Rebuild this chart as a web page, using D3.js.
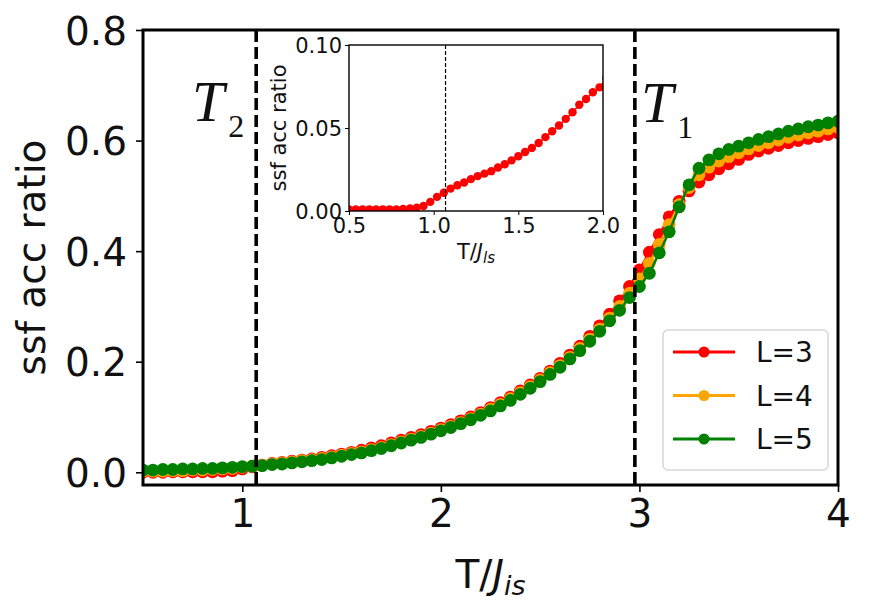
<!DOCTYPE html>
<html>
<head>
<meta charset="utf-8">
<script src="https://cdn.jsdelivr.net/npm/d3@7"></script>
<style>
  body { margin: 0; background: #fff; }
  text { font-family: "DejaVu Sans", sans-serif; fill: #111; }
</style>
</head>
<body>
<div id="chart"></div>
<script>
// temperatures (main plot)
const temps = [0.50,0.55,0.60,0.65,0.70,0.75,0.80,0.85,0.90,0.95,
  1.00,1.05,1.10,1.15,1.20,1.25,1.30,1.35,1.40,1.45,
  1.50,1.55,1.60,1.65,1.70,1.75,1.80,1.85,1.90,1.95,
  2.00,2.05,2.10,2.15,2.20,2.25,2.30,2.35,2.40,2.45,
  2.50,2.55,2.60,2.65,2.70,2.75,2.80,2.85,2.90,2.95,
  3.00,3.05,3.10,3.15,3.20,3.25,3.30,3.35,3.40,3.45,
  3.50,3.55,3.60,3.65,3.70,3.75,3.80,3.85,3.90,3.95,4.00];

const ratioL3 = [0.000,0.000,0.000,0.001,0.001,0.001,0.001,0.001,0.002,0.003,
  0.006,0.010,0.013,0.016,0.018,0.020,0.022,0.024,0.027,0.030,
  0.033,0.036,0.040,0.044,0.048,0.053,0.058,0.063,0.068,0.074,
  0.080,0.086,0.093,0.100,0.108,0.117,0.126,0.136,0.147,0.158,
  0.170,0.183,0.197,0.212,0.228,0.246,0.265,0.286,0.310,0.336,
  0.366,0.398,0.430,0.462,0.490,0.509,0.525,0.538,0.549,0.558,
  0.566,0.575,0.581,0.586,0.591,0.596,0.600,0.604,0.607,0.611,0.614];

const ratioL4 = [0.002,0.002,0.002,0.003,0.003,0.004,0.004,0.005,0.006,0.007,
  0.009,0.011,0.013,0.015,0.017,0.019,0.021,0.023,0.025,0.028,
  0.031,0.034,0.037,0.041,0.045,0.050,0.055,0.060,0.065,0.071,
  0.077,0.083,0.090,0.097,0.105,0.114,0.123,0.133,0.144,0.155,
  0.167,0.180,0.193,0.208,0.224,0.241,0.259,0.279,0.300,0.324,
  0.350,0.378,0.412,0.448,0.484,0.515,0.538,0.552,0.563,0.571,
  0.578,0.585,0.591,0.596,0.601,0.606,0.610,0.614,0.617,0.621,0.624];

const ratioL5 = [0.004,0.004,0.005,0.005,0.006,0.006,0.007,0.007,0.008,0.009,
  0.010,0.011,0.012,0.014,0.015,0.017,0.019,0.021,0.023,0.026,
  0.029,0.032,0.035,0.039,0.043,0.048,0.053,0.058,0.063,0.069,
  0.075,0.081,0.088,0.095,0.103,0.111,0.120,0.130,0.141,0.152,
  0.164,0.177,0.190,0.205,0.220,0.237,0.255,0.274,0.293,0.316,
  0.336,0.360,0.397,0.435,0.480,0.520,0.550,0.565,0.576,0.584,
  0.590,0.596,0.602,0.607,0.612,0.617,0.621,0.625,0.628,0.632,0.635];

// inset (zoom on low temperatures)
const insetTemps = [0.50,0.54,0.58,0.62,0.66,0.70,0.74,0.78,0.82,0.86,
  0.90,0.94,0.98,1.02,1.06,1.10,1.14,1.18,1.22,1.26,
  1.30,1.34,1.38,1.42,1.46,1.50,1.54,1.58,1.62,1.66,
  1.70,1.74,1.78,1.82,1.86,1.90,1.94,1.98,2.02];
const insetRatio = [0.001,0.001,0.001,0.001,0.001,0.001,0.001,0.001,0.0012,0.0015,
  0.002,0.003,0.0055,0.0085,0.011,0.0135,0.0155,0.0172,0.0192,0.021,
  0.0225,0.024,0.0262,0.0282,0.0305,0.033,0.0355,0.038,0.041,0.0445,
  0.048,0.0515,0.0555,0.0595,0.064,0.0675,0.0715,0.0745,0.080];

const seriesNames = ["L=3", "L=4", "L=5"];
const seriesColors = ["#ff0000", "#ffa500", "#008000"];
const seriesValues = [ratioL3, ratioL4, ratioL5];

const xTicks = [1, 2, 3, 4];
const yTicks = [0.0, 0.2, 0.4, 0.6, 0.8];
const insetXTicks = [0.5, 1.0, 1.5, 2.0];
const insetYTicks = [0.00, 0.05, 0.10];
const T1 = 2.977, T2 = 1.07;

let W = 869, H = 607;
let margin = { top: 30, bottom: 122, left: 143, right: 31 };
let width = W - margin.left - margin.right,
    height = H - margin.top - margin.bottom;

let svg = d3.select('#chart').append('svg')
    .attr('width', W).attr('height', H);

svg.append('defs').append('clipPath').attr('id', 'clipMain')
    .append('rect').attr('width', width).attr('height', height);

let g = svg.append('g')
    .attr('transform', `translate(${margin.left},${margin.top})`);

// Scales
let xscale = d3.scaleLinear().domain([0.5, 4]).range([0, width]);
let yscale = d3.scaleLinear().domain([-0.023, 0.8]).range([height, 0]);

// Axes
let xaxis = d3.axisBottom(xscale).tickValues(xTicks).tickFormat(d3.format("d"))
    .tickSize(7).tickPadding(7);
let yaxis = d3.axisLeft(yscale).tickValues(yTicks).tickFormat(d3.format(".1f"))
    .tickSize(7).tickPadding(9);

let gx = g.append('g').attr('transform', `translate(0,${height})`).call(xaxis);
let gy = g.append('g').call(yaxis);
[gx, gy].forEach(a => {
    a.select('.domain').remove();
    a.selectAll('line').attr('stroke', '#000').attr('stroke-width', 1.6);
    a.selectAll('text').style('font-size', '39px').attr('fill', '#111');
});
gy.selectAll('text').attr('dy', '0.36em');

// data
let plotArea = g.append('g').attr('clip-path', 'url(#clipMain)');
let line = d3.line().x(d => xscale(d[0])).y(d => yscale(d[1]));

seriesValues.forEach((vals, i) => {
    let pts = temps.map((t, j) => [t, vals[j]]);
    let sg = plotArea.append('g');
    sg.append('path').datum(pts)
        .attr('d', line).attr('fill', 'none')
        .attr('stroke', seriesColors[i]).attr('stroke-width', 2.5);
    sg.selectAll('circle').data(pts).join('circle')
        .attr('cx', d => xscale(d[0])).attr('cy', d => yscale(d[1]))
        .attr('r', 6.4).attr('fill', seriesColors[i]);
});

// transition temperatures
[T1, T2].forEach(t => {
    g.append('line')
        .attr('x1', xscale(t)).attr('x2', xscale(t))
        .attr('y1', 0).attr('y2', height)
        .attr('stroke', '#000').attr('stroke-width', 3.6)
        .attr('stroke-dasharray', '12,5');
});

// frame
g.append('rect').attr('width', width).attr('height', height)
    .attr('fill', 'none').attr('stroke', '#000').attr('stroke-width', 3);

// T labels
function tLabel(x, y, sub) {
    let t = svg.append('text').attr('x', x).attr('y', y)
        .style('font-family', '"Liberation Serif", "Times New Roman", serif');
    t.append('tspan').text('T').style('font-style', 'italic').style('font-size', '58px');
    t.append('tspan').text(sub).attr('dx', 4).attr('dy', 16).style('font-size', '32px');
}
tLabel(192, 121, '2');
tLabel(641, 122, '1');

// axis labels
let xl = svg.append('text').attr('x', margin.left + width / 2).attr('y', 588)
    .attr('text-anchor', 'middle').style('font-size', '39px');
xl.append('tspan').text('T/');
xl.append('tspan').text('J').style('font-style', 'italic');
xl.append('tspan').text('is').style('font-style', 'italic')
    .style('font-size', '27px').attr('dy', 7);

svg.append('text')
    .attr('transform', `translate(45,${margin.top + height / 2}) rotate(-90)`)
    .attr('text-anchor', 'middle').style('font-size', '39px')
    .text('ssf acc ratio');

// legend
let legend = svg.append('g').attr('transform', 'translate(663,330)');
legend.append('rect').attr('width', 165).attr('height', 140).attr('rx', 5)
    .attr('fill', '#fff').attr('fill-opacity', 0.8)
    .attr('stroke', '#d8d8d8').attr('stroke-width', 1.5);
seriesNames.forEach((name, i) => {
    let yy = 22 + i * 43.5;
    legend.append('line').attr('x1', 10).attr('x2', 72).attr('y1', yy).attr('y2', yy)
        .attr('stroke', seriesColors[i]).attr('stroke-width', 3);
    legend.append('circle').attr('cx', 41).attr('cy', yy).attr('r', 5.5)
        .attr('fill', seriesColors[i]);
    legend.append('text').attr('x', 93).attr('y', yy).attr('dy', '0.36em')
        .style('font-size', '28px').text(name);
});

// inset
let inset = { left: 349, top: 45, width: 254, height: 166 };
svg.append('defs').append('clipPath').attr('id', 'clipInset')
    .append('rect').attr('width', inset.width).attr('height', inset.height);
let gi = svg.append('g').attr('transform', `translate(${inset.left},${inset.top})`);
gi.append('rect').attr('width', inset.width).attr('height', inset.height).attr('fill', '#fff');

let ixscale = d3.scaleLinear().domain([0.5, 2.0]).range([0, inset.width]);
let iyscale = d3.scaleLinear().domain([0, 0.10]).range([inset.height, 0]);

let ixaxis = d3.axisBottom(ixscale).tickValues(insetXTicks).tickFormat(d3.format(".1f"))
    .tickSize(4).tickPadding(3);
let iyaxis = d3.axisLeft(iyscale).tickValues(insetYTicks).tickFormat(d3.format(".2f"))
    .tickSize(4).tickPadding(3);
let gix = gi.append('g').attr('transform', `translate(0,${inset.height})`).call(ixaxis);
let giy = gi.append('g').call(iyaxis);
[gix, giy].forEach(a => {
    a.select('.domain').remove();
    a.selectAll('line').attr('stroke', '#000').attr('stroke-width', 1);
    a.selectAll('text').style('font-size', '21px').attr('fill', '#111');
});
giy.selectAll('text').attr('dy', '0.36em');

let insetPts = insetTemps.map((t, j) => [t, insetRatio[j]]);
let ip = gi.append('g').attr('clip-path', 'url(#clipInset)');
ip.append('path').datum(insetPts)
    .attr('d', d3.line().x(d => ixscale(d[0])).y(d => iyscale(d[1])))
    .attr('fill', 'none').attr('stroke', '#ff0000').attr('stroke-width', 1.5);
ip.selectAll('circle').data(insetPts).join('circle')
    .attr('cx', d => ixscale(d[0])).attr('cy', d => iyscale(d[1]))
    .attr('r', 4.2).attr('fill', '#ff0000');

gi.append('line').attr('x1', ixscale(T2)).attr('x2', ixscale(T2))
    .attr('y1', 0).attr('y2', inset.height)
    .attr('stroke', '#000').attr('stroke-width', 1.2).attr('stroke-dasharray', '4,2');

gi.append('rect').attr('width', inset.width).attr('height', inset.height)
    .attr('fill', 'none').attr('stroke', '#000').attr('stroke-width', 1.4);

let ixl = gi.append('text').attr('x', inset.width / 2).attr('y', 214)
    .attr('text-anchor', 'middle').style('font-size', '21px');
ixl.append('tspan').text('T/');
ixl.append('tspan').text('J').style('font-style', 'italic');
ixl.append('tspan').text('ls').style('font-style', 'italic')
    .style('font-size', '15px').attr('dy', 4);

gi.append('text')
    .attr('transform', `translate(-63,${inset.height / 2}) rotate(-90)`)
    .attr('text-anchor', 'middle').style('font-size', '21px')
    .text('ssf acc ratio');
</script>
</body>
</html>
